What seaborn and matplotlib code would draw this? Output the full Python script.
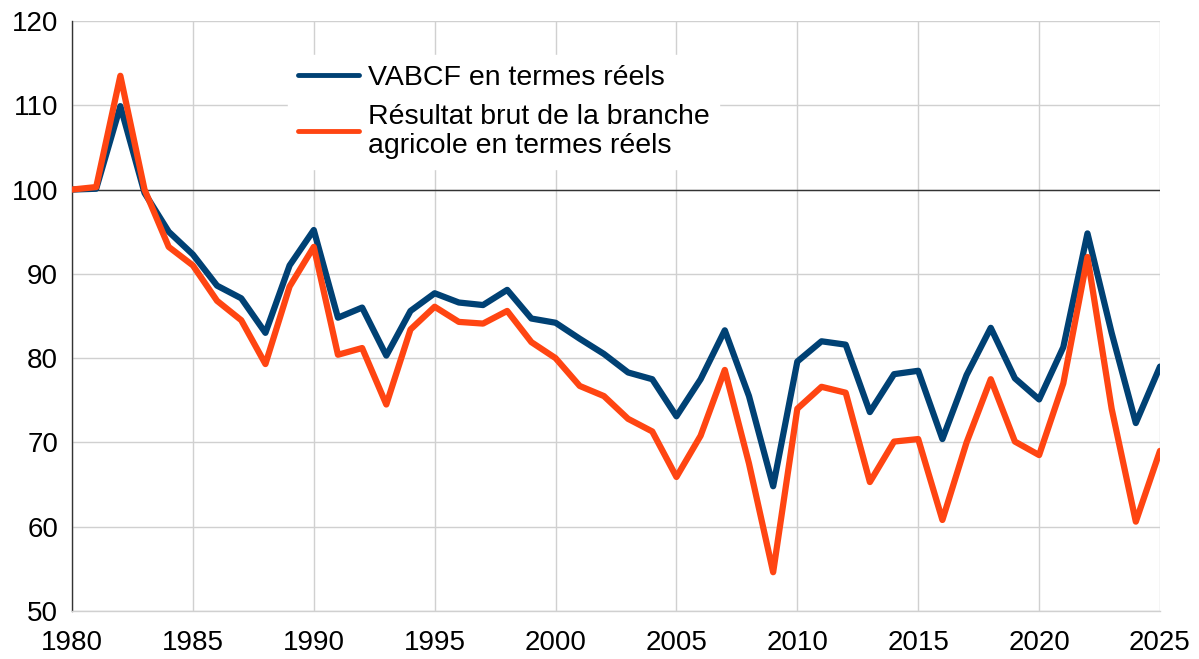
import numpy as np
import pandas as pd
import matplotlib
matplotlib.use("Agg")
import matplotlib.pyplot as plt
import seaborn as sns

years = list(range(1980, 2026))

vabcf = [100.0, 100.1, 109.9, 99.6, 95.0, 92.3, 88.6, 87.1, 83.0, 91.0,
         95.2, 84.8, 86.0, 80.3, 85.6, 87.7, 86.6, 86.3, 88.1, 84.7,
         84.2, 82.3, 80.5, 78.3, 77.5, 73.1, 77.5, 83.3, 75.5, 64.8,
         79.6, 82.0, 81.6, 73.6, 78.1, 78.5, 70.4, 78.0, 83.6, 77.6,
         75.1, 81.3, 94.8, 83.0, 72.3, 79.0]

resultat = [100.0, 100.3, 113.5, 100.0, 93.2, 91.0, 86.8, 84.5, 79.3, 88.5,
            93.2, 80.4, 81.2, 74.5, 83.4, 86.1, 84.3, 84.1, 85.6, 81.9,
            80.0, 76.7, 75.5, 72.8, 71.3, 65.9, 70.8, 78.6, 67.5, 54.6,
            74.0, 76.6, 75.9, 65.3, 70.1, 70.4, 60.8, 70.0, 77.5, 70.1,
            68.5, 77.0, 92.0, 74.0, 60.6, 69.0]

series_names = ["VABCF en termes réels",
                "Résultat brut de la branche\nagricole en termes réels"]
colors = ["#004174", "#ff4512"]

df = pd.DataFrame({"year": years * 2,
                   "value": vabcf + resultat,
                   "serie": [series_names[0]] * len(years) + [series_names[1]] * len(years)})

sns.set_style("white")
plt.rcParams["font.family"] = ["Liberation Sans", "DejaVu Sans"]
plt.rcParams["text.color"] = "black"
plt.rcParams["xtick.color"] = "black"
plt.rcParams["ytick.color"] = "black"

fig = plt.figure(figsize=(11.99, 6.59), dpi=100)
ax = fig.add_axes([72 / 1199, 1 - 611 / 659, (1160 - 72) / 1199, (611 - 21) / 659])

sns.lineplot(data=df, x="year", y="value", hue="serie", palette=colors,
             linewidth=4.5, ax=ax, zorder=3)

ax.axhline(100, color="#333333", linewidth=1.0, zorder=2)

ax.set_xlim(1980, 2025)
ax.set_ylim(50, 120)
ax.set_xticks(range(1980, 2026, 5))
ax.set_yticks(range(50, 121, 10))
ax.grid(True, color="#d0d0d0", linewidth=1.0, zorder=0)
ax.set_axisbelow(True)
ax.set_xlabel("")
ax.set_ylabel("")

for side in ["top", "right"]:
    ax.spines[side].set_visible(False)
ax.spines["left"].set_color("#333333")
ax.spines["left"].set_linewidth(1.0)
ax.spines["bottom"].set_color("#d0d0d0")
ax.spines["bottom"].set_linewidth(1.0)

ax.tick_params(axis="y", direction="out", length=8, width=1, color="#333333",
               labelsize=20, pad=2)
ax.tick_params(axis="x", length=0, labelsize=20, pad=14)

leg = ax.legend(loc="upper left", bbox_to_anchor=(288 / 1199, 1 - 55 / 659),
                bbox_transform=fig.transFigure, borderaxespad=0,
                frameon=True, fontsize=20.5, handlelength=2.15, handletextpad=0.3,
                labelspacing=0.45, borderpad=0.35, fancybox=False)
leg.get_frame().set_edgecolor("white")
leg.get_frame().set_facecolor("white")
leg.get_frame().set_alpha(1.0)
leg.set_zorder(2.5)
for line in leg.get_lines():
    line.set_linewidth(3.5)
for t in leg.get_texts():
    t.set_linespacing(1.15)

fig.savefig("out.png", dpi=100)
